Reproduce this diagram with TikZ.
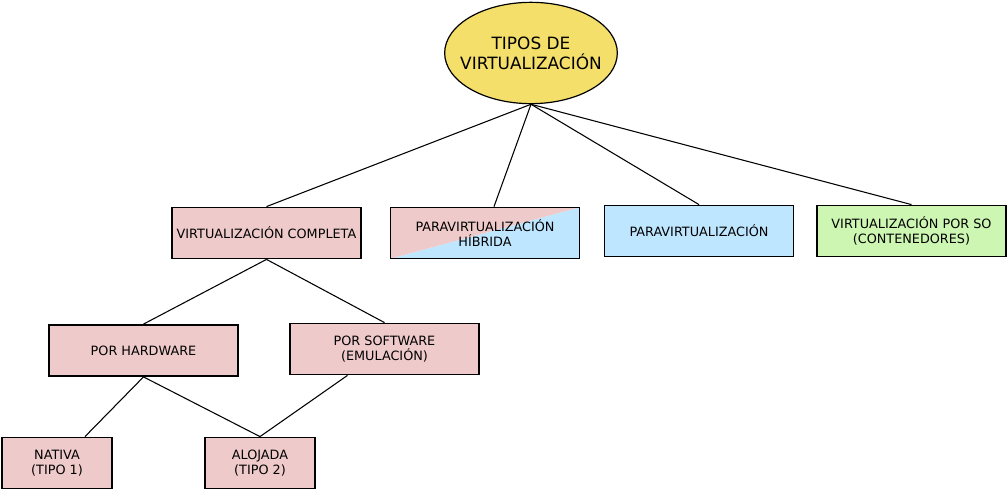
\documentclass[tikz,border=0pt]{standalone}
\usepackage{fontspec}
\setmainfont{DejaVu Sans}
\usetikzlibrary{shapes.geometric,calc}
\definecolor{pinkc}{HTML}{EFCACA}
\definecolor{bluec}{HTML}{BFE6FF}
\definecolor{greenc}{HTML}{CDF6B2}
\definecolor{yellowc}{HTML}{F4DF6B}
\begin{document}
\begin{tikzpicture}[x=0.75pt,y=-0.75pt,
  box/.style={draw=black,line width=1.1pt,minimum width=142pt,minimum height=38.5pt,inner sep=0pt,align=center,font=\fontsize{9.6}{11.6}\selectfont},
  smallbox/.style={box,minimum width=82.5pt},
  link/.style={draw=black,line width=0.8pt}]
\useasboundingbox (0,0) rectangle (1008,491);
\node[ellipse,draw=black,line width=0.9pt,fill=yellowc,minimum width=129.5pt,minimum height=76pt,inner xsep=-9pt,inner ysep=0pt,align=center,font=\fontsize{12.7}{15}\selectfont] (root) at (531,53) {TIPOS DE\\VIRTUALIZACIÓN};
\node[box,fill=pinkc] (vc) at (266.5,233) {VIRTUALIZACIÓN COMPLETA};
\node[box,path picture={
  \fill[bluec] (path picture bounding box.south west) -- (path picture bounding box.north east) -- (path picture bounding box.south east) -- cycle;
  \fill[pinkc] (path picture bounding box.south west) -- (path picture bounding box.north east) -- (path picture bounding box.north west) -- cycle;}] (ph) at (485,233) {PARAVIRTUALIZACIÓN\\HÍBRIDA};
\node[box,fill=bluec] (para) at (699,231) {PARAVIRTUALIZACIÓN};
\node[box,fill=greenc] (vso) at (911.5,231) {VIRTUALIZACIÓN POR SO\\(CONTENEDORES)};
\node[box,fill=pinkc] (phw) at (143.5,350.5) {POR HARDWARE};
\node[box,fill=pinkc] (psw) at (384.5,349) {POR SOFTWARE\\(EMULACIÓN)};
\node[smallbox,fill=pinkc] (nat) at (57,463) {NATIVA\\(TIPO 1)};
\node[smallbox,fill=pinkc] (alo) at (260,463) {ALOJADA\\(TIPO 2)};
\draw[link] (root.south) -- (vc.north);
\draw[link] (root.south) -- ($(ph.north)+(9,0)$);
\draw[link] (root.south) -- (para.north);
\draw[link] (root.south) -- (vso.north);
\draw[link] (vc.south) -- (phw.north);
\draw[link] (vc.south) -- (psw.north);
\draw[link] (phw.south) -- ($(nat.north)+(28,0)$);
\draw[link] (phw.south) -- (alo.north);
\draw[link] ($(psw.south)+(-37,0)$) -- (alo.north);
\end{tikzpicture}
\end{document}
